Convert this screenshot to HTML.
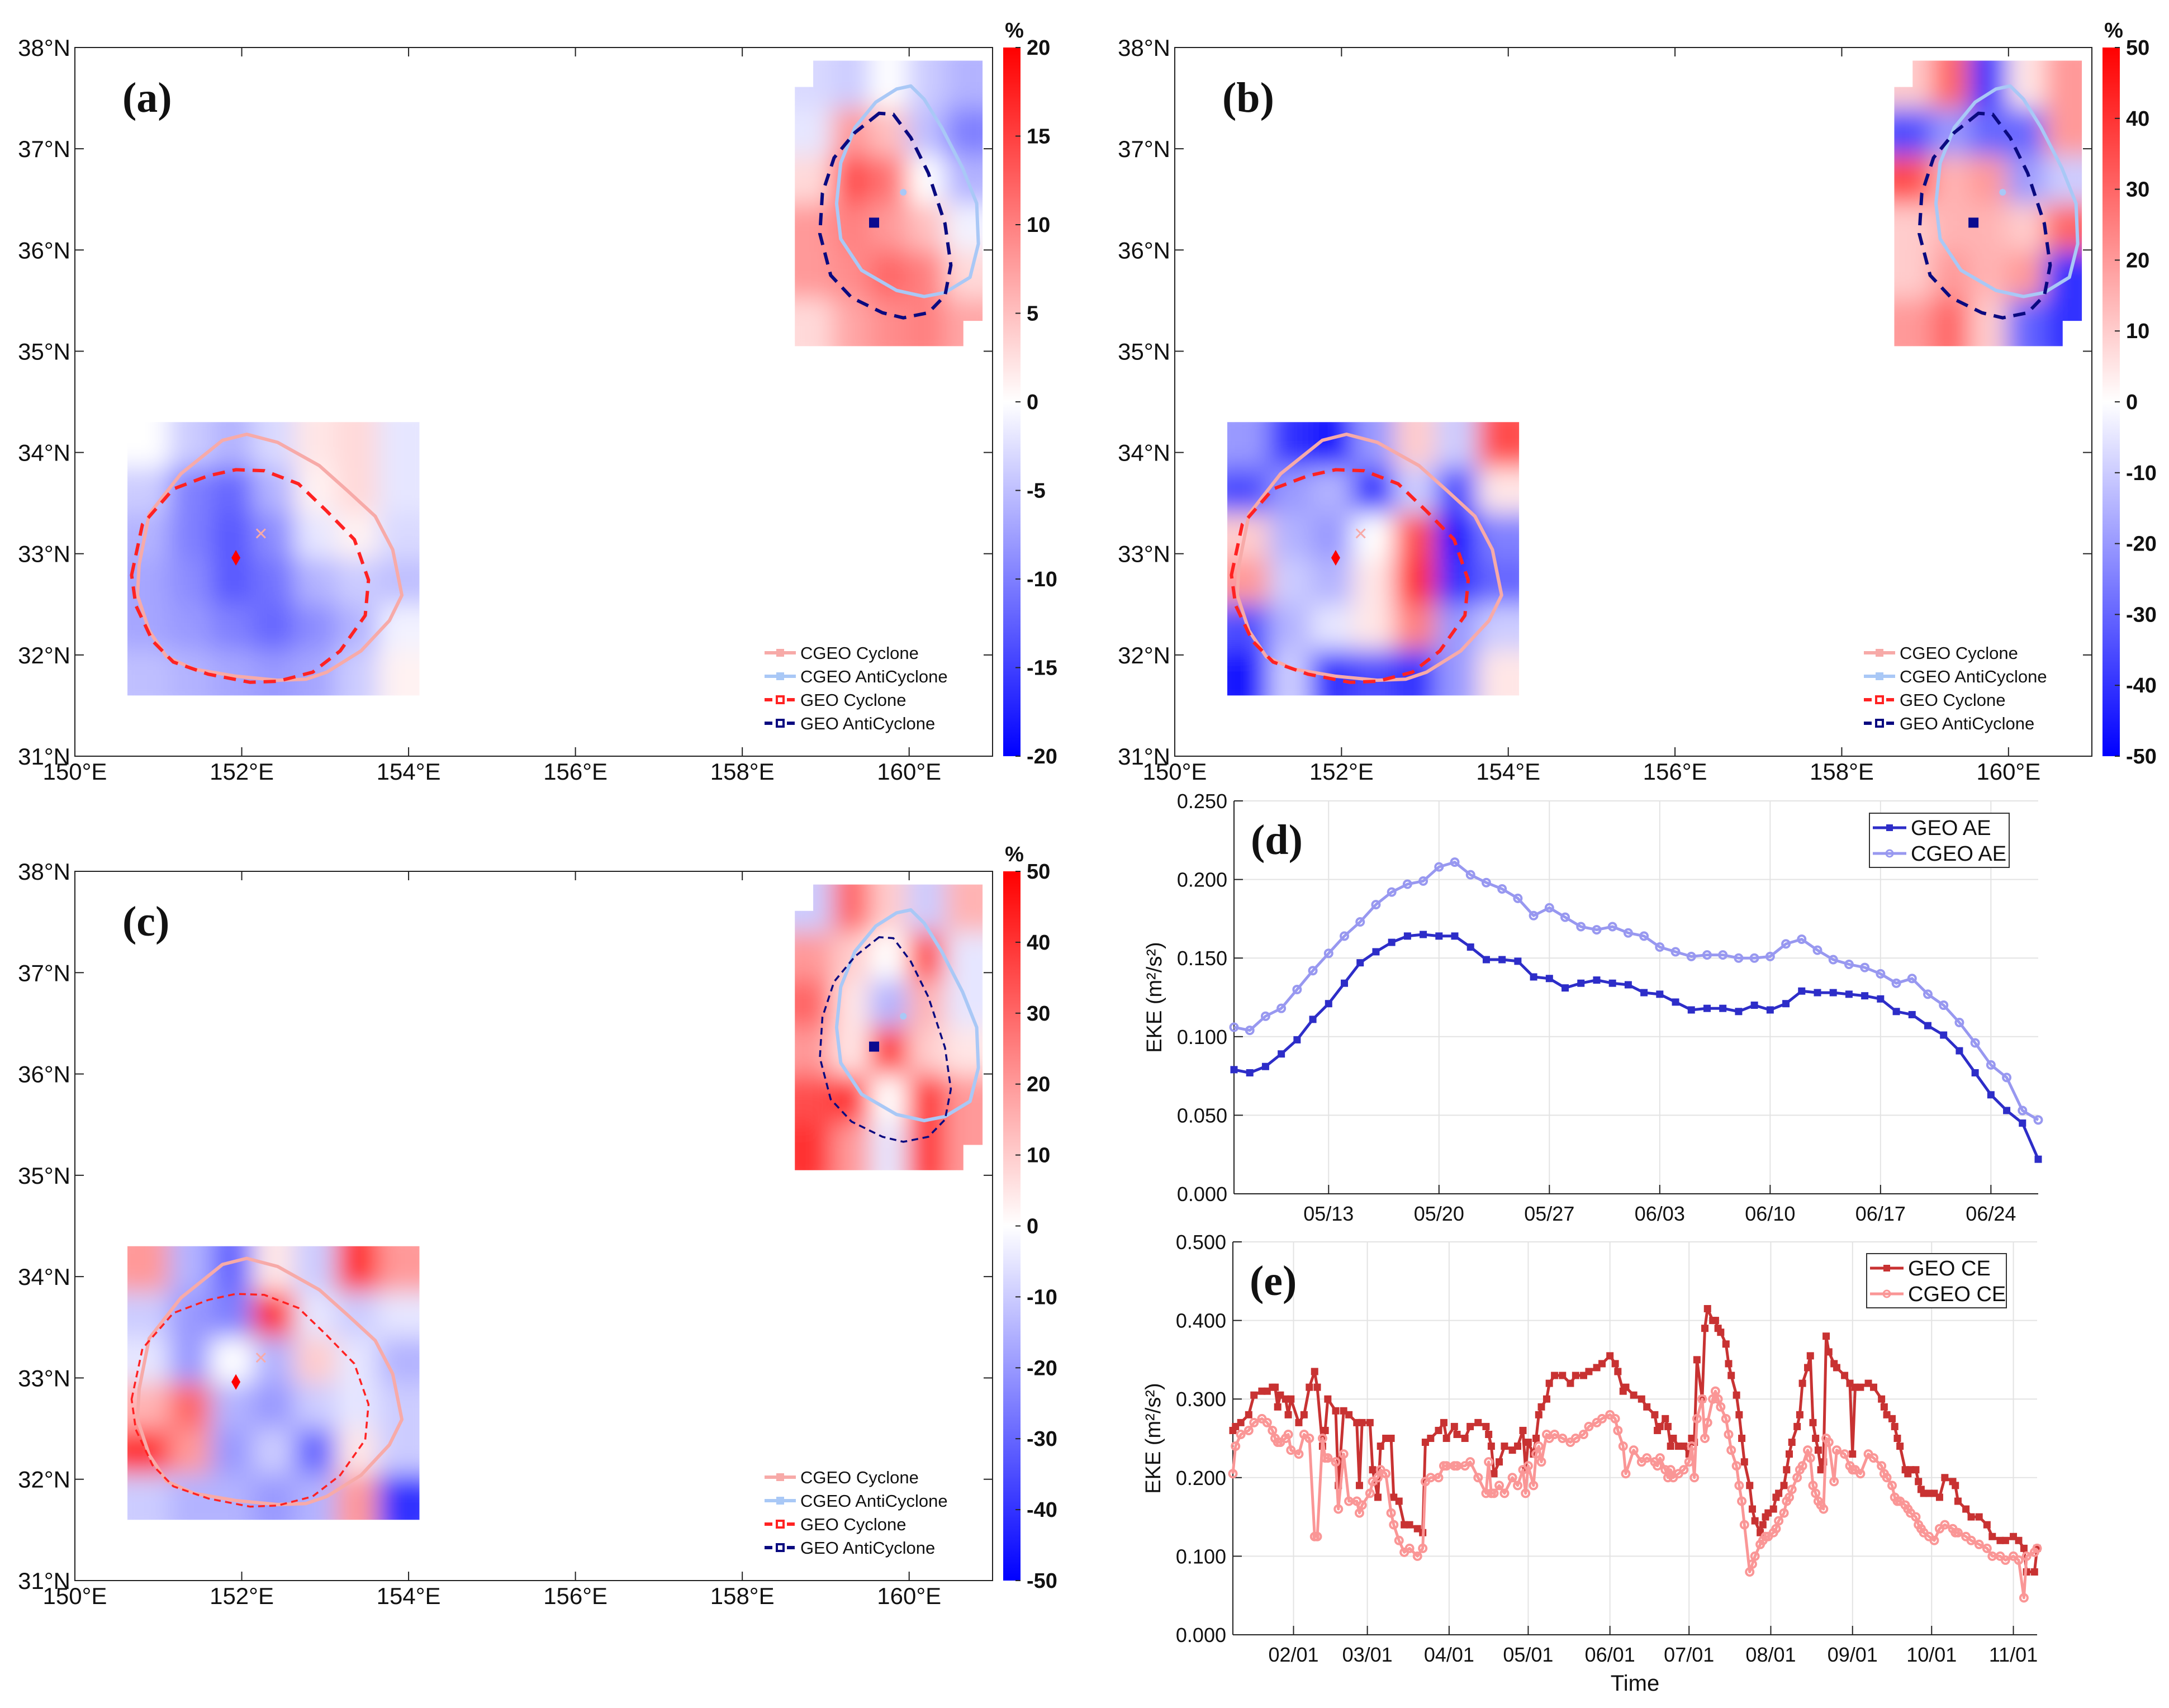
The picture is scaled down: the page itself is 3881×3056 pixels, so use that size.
<!DOCTYPE html>
<html><head><meta charset="utf-8"><style>
html,body{margin:0;padding:0;background:#fff}
svg text{font-family:"Liberation Sans",Arial,sans-serif}
svg text.serif{font-family:"Liberation Serif","Times New Roman",serif}
</style></head><body>
<svg id="s" xmlns="http://www.w3.org/2000/svg" width="3881" height="3051" viewBox="0 0 3881 3051">
<defs>
<filter id="blur" filterUnits="userSpaceOnUse" x="0" y="0" width="3881" height="3051"><feGaussianBlur stdDeviation="22" edgeMode="duplicate"/></filter>
</defs>
</svg>
<script>
// ---------- DATA ----------
const aeDates=["05/13","05/20","05/27","06/03","06/10","06/17","06/24"];
const aeTickDays=[6,13,20,27,34,41,48];
const geoAE=[0.079,0.077,0.081,0.089,0.098,0.111,0.121,0.134,0.147,0.154,0.160,0.164,0.165,0.164,0.164,0.157,0.149,0.149,0.148,0.138,0.137,0.131,0.134,0.136,0.134,0.133,0.128,0.127,0.122,0.117,0.118,0.118,0.116,0.120,0.117,0.121,0.129,0.128,0.128,0.127,0.126,0.124,0.116,0.114,0.107,0.101,0.091,0.077,0.063,0.053,0.045,0.022];
const cgeoAE=[0.106,0.104,0.113,0.118,0.130,0.142,0.153,0.164,0.173,0.184,0.192,0.197,0.199,0.208,0.211,0.203,0.198,0.194,0.188,0.177,0.182,0.176,0.170,0.168,0.170,0.166,0.164,0.157,0.154,0.151,0.152,0.152,0.150,0.150,0.151,0.159,0.162,0.155,0.149,0.146,0.144,0.140,0.134,0.137,0.127,0.120,0.109,0.096,0.082,0.074,0.053,0.047];
const aeYTicks=["0.000","0.050","0.100","0.150","0.200","0.250"];
const ceMonths=["02/01","03/01","04/01","05/01","06/01","07/01","08/01","09/01","10/01","11/01"];
const ceTickDays=[23,51,82,112,143,173,204,235,265,296];
const ceDays=[0,1,3,6,8,11,13,15,16,17,18,20,21,22,25,27,29,31,32,34,35,36,39,40,42,44,47,48,49,52,53,55,56,58,60,61,63,65,67,70,72,73,75,78,80,81,84,85,88,90,93,96,97,98,99,101,103,106,108,110,111,112,114,115,116,117,119,120,122,125,128,130,133,135,138,140,143,145,146,148,149,152,155,157,160,161,162,164,165,166,167,169,171,173,174,175,176,178,179,180,182,183,184,185,187,188,189,191,192,193,194,196,197,198,200,201,202,203,205,206,207,209,210,211,212,214,215,216,218,219,220,221,222,223,224,225,226,228,229,232,234,235,236,238,241,243,246,247,248,250,251,252,253,255,256,257,259,260,261,262,264,266,268,270,273,274,275,278,280,283,286,288,291,293,296,298,300,301,304,305];
const geoCE=[0.26,0.265,0.27,0.28,0.305,0.31,0.31,0.315,0.315,0.29,0.305,0.30,0.28,0.30,0.27,0.28,0.315,0.335,0.315,0.24,0.26,0.30,0.285,0.19,0.285,0.28,0.27,0.19,0.27,0.27,0.21,0.175,0.24,0.25,0.25,0.175,0.17,0.14,0.14,0.135,0.13,0.245,0.25,0.26,0.27,0.25,0.265,0.255,0.25,0.265,0.27,0.265,0.255,0.24,0.205,0.22,0.24,0.235,0.24,0.26,0.21,0.245,0.23,0.25,0.28,0.29,0.30,0.32,0.33,0.33,0.32,0.33,0.33,0.335,0.34,0.345,0.355,0.345,0.335,0.31,0.315,0.305,0.30,0.29,0.28,0.26,0.265,0.275,0.265,0.24,0.25,0.24,0.24,0.23,0.25,0.245,0.35,0.30,0.39,0.415,0.40,0.40,0.39,0.385,0.37,0.345,0.33,0.305,0.28,0.25,0.22,0.19,0.16,0.145,0.13,0.14,0.15,0.155,0.16,0.175,0.18,0.19,0.21,0.23,0.245,0.265,0.28,0.32,0.34,0.355,0.27,0.25,0.235,0.21,0.22,0.38,0.36,0.345,0.34,0.33,0.32,0.23,0.315,0.315,0.32,0.315,0.30,0.29,0.28,0.275,0.265,0.25,0.24,0.21,0.205,0.21,0.21,0.195,0.185,0.18,0.18,0.18,0.175,0.20,0.195,0.19,0.17,0.16,0.15,0.15,0.14,0.125,0.12,0.12,0.125,0.12,0.11,0.08,0.08,0.11];
const cgeoCE=[0.205,0.24,0.255,0.26,0.27,0.275,0.27,0.26,0.25,0.245,0.245,0.25,0.255,0.235,0.23,0.255,0.25,0.125,0.125,0.25,0.225,0.225,0.22,0.16,0.23,0.17,0.17,0.155,0.165,0.18,0.195,0.20,0.21,0.205,0.155,0.14,0.12,0.105,0.11,0.10,0.11,0.195,0.20,0.20,0.215,0.215,0.215,0.215,0.215,0.22,0.20,0.18,0.22,0.18,0.18,0.19,0.18,0.20,0.19,0.21,0.18,0.215,0.19,0.23,0.24,0.22,0.255,0.25,0.255,0.25,0.245,0.25,0.255,0.265,0.27,0.275,0.28,0.275,0.26,0.24,0.205,0.235,0.22,0.225,0.22,0.215,0.225,0.21,0.20,0.21,0.20,0.205,0.21,0.22,0.24,0.20,0.275,0.30,0.25,0.27,0.30,0.31,0.30,0.29,0.275,0.255,0.235,0.215,0.19,0.17,0.14,0.08,0.09,0.10,0.115,0.12,0.125,0.125,0.13,0.135,0.145,0.155,0.17,0.175,0.185,0.20,0.21,0.215,0.235,0.225,0.19,0.18,0.17,0.165,0.16,0.25,0.245,0.195,0.235,0.23,0.215,0.21,0.21,0.205,0.23,0.225,0.215,0.205,0.20,0.19,0.175,0.17,0.17,0.165,0.16,0.155,0.15,0.14,0.135,0.13,0.125,0.12,0.135,0.14,0.135,0.13,0.13,0.125,0.12,0.115,0.11,0.10,0.10,0.095,0.10,0.095,0.047,0.10,0.105,0.11];
const ceYTicks=["0.000","0.100","0.200","0.300","0.400","0.500"];
// heat grids (%), rows north->south
const heatA_SW=[[0,-4,-6,-3,2,3,-2],[-4,-10,-12,-6,1,3,-2],[-6,-10,-13,-9,-2,1,-3],[-7,-9,-13,-11,-6,-4,-5],[-7,-8,-10,-12,-9,-6,-1],[-5,-6,-7,-8,-7,-4,1]];
const heatA_NE=[[-3,-4,0,-4,-6],[-2,8,5,-5,-10],[3,14,11,0,-6],[8,10,8,5,-1],[8,9,12,10,3],[3,7,9,10,7]];
const heatB_SW=[[-20,-40,-45,-20,10,-10,35],[-35,-20,-15,-40,-10,-35,5],[10,-15,-20,0,35,-45,-25],[20,-10,-15,5,40,-40,-30],[-35,-15,-5,5,25,-20,-10],[-45,-10,-40,-35,-40,-20,5]];
const heatB_NE=[[10,30,-40,5,20],[-35,-20,-30,-30,20],[35,15,20,-20,-10],[10,15,15,10,30],[10,20,15,20,-40],[20,30,10,-30,-40]];
const heatC_SW=[[20,-15,-30,5,-10,40,20],[-10,-20,-25,40,-5,-10,-5],[-5,-20,0,-15,10,-5,-15],[15,30,-15,-20,-10,-5,-10],[40,20,-20,-10,-30,5,-10],[-10,-15,-15,-20,-15,20,-40]];
const heatC_NE=[[-10,30,10,-10,15],[20,10,0,35,-5],[30,5,-15,15,-5],[20,5,40,10,5],[35,40,0,40,20],[40,20,-5,40,20]];
const cgeoCyc=[[150.77,32.89],[150.89,33.39],[151.27,33.79],[151.77,34.12],[152.06,34.18],[152.43,34.10],[152.93,33.87],[153.27,33.62],[153.6,33.37],[153.81,33.04],[153.92,32.59],[153.77,32.34],[153.43,32.04],[153.02,31.83],[152.77,31.76],[152.43,31.75],[151.93,31.79],[151.43,31.86],[151.1,31.98],[150.89,32.24],[150.75,32.59]];
const geoCyc=[[150.68,32.79],[150.81,33.29],[151.18,33.64],[151.6,33.77],[151.93,33.83],[152.27,33.82],[152.68,33.69],[153.02,33.42],[153.35,33.14],[153.52,32.74],[153.48,32.39],[153.18,32.04],[152.85,31.83],[152.43,31.74],[152.1,31.73],[151.6,31.81],[151.18,31.93],[150.93,32.14],[150.73,32.49]];
const cgeoAnti=[[160.02,37.62],[159.85,37.59],[159.6,37.46],[159.35,37.21],[159.18,36.86],[159.13,36.46],[159.18,36.11],[159.43,35.8],[159.85,35.6],[160.18,35.54],[160.43,35.58],[160.73,35.73],[160.83,36.06],[160.81,36.46],[160.64,36.81],[160.39,37.21],[160.18,37.49]];
const geoAnti=[[159.64,37.35],[159.35,37.16],[159.1,36.91],[158.96,36.56],[158.93,36.16],[159.06,35.75],[159.31,35.53],[159.68,35.38],[159.93,35.33],[160.23,35.38],[160.43,35.55],[160.5,35.85],[160.43,36.26],[160.23,36.76],[160.02,37.11],[159.81,37.34]];

// ---------- HELPERS ----------
const NS="http://www.w3.org/2000/svg";
const svg=document.getElementById('s');
function el(tag,attrs,parent,txt){const e=document.createElementNS(NS,tag);for(const k in attrs)e.setAttribute(k,attrs[k]);if(txt!==undefined)e.textContent=txt;(parent||svg).appendChild(e);return e;}
function col(v,m){let t=Math.max(-1,Math.min(1,v/m));if(t>=0){const c=Math.round(255*(1-t));return `rgb(255,${c},${c})`;}const c=Math.round(255*(1+t));return `rgb(${c},${c},255)`;}

function mapPanel(id,L,T,W,H,cbX,maxV,cbTicks,heatSW,heatNE,thinDash){
  const X=lon=>L+(lon-150)/11*W, Y=lat=>T+(38-lat)/7*H;
  const g=el('g',{},svg);
  
  
  function heat(grid,lon0,lon1,lat0,lat1,clipPts,name){
    const cid='clip'+id+name;
    const cp=el('clipPath',{id:cid},svg.querySelector('defs'));
    el('polygon',{points:clipPts.map(p=>X(p[0])+','+Y(p[1])).join(' ')},cp);
    const outer=el('g',{'clip-path':`url(#${cid})`},g);
    
    
    const inner=el('g',{filter:'url(#blur)'},outer);
    const rows=grid.length,cols=grid[0].length;
    const dl=(lon1-lon0)/cols,dt=(lat1-lat0)/rows;
    for(let r=0;r<rows;r++)for(let c=0;c<cols;c++){
      const x0=X(lon0+c*dl),x1=X(lon0+(c+1)*dl),y0=Y(lat1-r*dt),y1=Y(lat1-(r+1)*dt);
      const ex=(c===0?-40:0), ex2=(c===cols-1?40:0), ey=(r===0?-40:0), ey2=(r===rows-1?40:0);
      const rc=el('rect',{x:x0+ex,y:y0+ey,width:x1-x0-ex+ex2+1,height:y1-y0-ey+ey2+1,fill:col(grid[r][c],maxV)},inner);
      
      
    }
  }
  heat(heatSW,150.63,154.13,31.6,34.3,[[150.63,34.3],[154.13,34.3],[154.13,31.6],[150.63,31.6]],'sw');
  heat(heatNE,158.63,160.88,35.05,37.87,[[158.63,37.61],[158.85,37.61],[158.85,37.87],[160.88,37.87],[160.88,35.3],[160.65,35.3],[160.65,35.05],[158.63,35.05]],'ne');
  const box=el('rect',{x:L,y:T,width:W,height:H,fill:'none',stroke:'#222','stroke-width':2},g);
  
  
  for(let lon=150;lon<=160;lon+=2){
    const x=X(lon);
    el('line',{x1:x,y1:T+H,x2:x,y2:T+H-16,stroke:'#222','stroke-width':2},g);
    el('line',{x1:x,y1:T,x2:x,y2:T+16,stroke:'#222','stroke-width':2},g);
    const t=el('text',{x:x,y:T+H+42,'font-size':42,'text-anchor':'middle',fill:'#111'},g,lon+'°E');
    
    
  }
  for(let lat=31;lat<=38;lat++){
    const y=Y(lat);
    el('line',{x1:L,y1:y,x2:L+16,y2:y,stroke:'#222','stroke-width':2},g);
    el('line',{x1:L+W,y1:y,x2:L+W-16,y2:y,stroke:'#222','stroke-width':2},g);
    const t=el('text',{x:L-8,y:y+15,'font-size':42,'text-anchor':'end',fill:'#111'},g,lat+'°N');
    
    
  }
  const path=(pts)=>'M'+pts.map(p=>X(p[0]).toFixed(1)+','+Y(p[1]).toFixed(1)).join(' L')+' Z';
  const dash=thinDash?'12 8':'22 14', dw=thinDash?3.5:6;
  let c1=el('path',{d:path(cgeoCyc),fill:'none',stroke:'#f7aaa8','stroke-width':6,'stroke-linejoin':'round'},g);
  
  let c2=el('path',{d:path(geoCyc),fill:'none',stroke:'#f22','stroke-width':dw,'stroke-dasharray':dash},g);
  
  let c3=el('path',{d:path(cgeoAnti),fill:'none',stroke:'#a9c8f6','stroke-width':6,'stroke-linejoin':'round'},g);
  
  let c4=el('path',{d:path(geoAnti),fill:'none',stroke:'#0a0a80','stroke-width':dw,'stroke-dasharray':dash},g);
  
  const dx=X(151.93),dy=Y(32.96);
  let m1=el('polygon',{points:`${dx},${dy-14} ${dx+8},${dy} ${dx},${dy+14} ${dx-8},${dy}`,fill:'#f00'},g);
  
  const xx=X(152.23),xy=Y(33.2);
  let m2=el('path',{d:`M${xx-8},${xy-8}L${xx+8},${xy+8}M${xx+8},${xy-8}L${xx-8},${xy+8}`,stroke:'#f7aaa8','stroke-width':3},g);
  
  let m3=el('rect',{x:X(159.58)-9,y:Y(36.27)-9,width:18,height:18,fill:'#0a0a90'},g);
  
  let m4=el('circle',{cx:X(159.93),cy:Y(36.57),r:6,fill:'#a9c8f6'},g);
  
  const pl=el('text',{x:L+85,y:T+115,'font-size':76,'font-weight':'bold','class':'serif',fill:'#111'},g,'('+id+')');
  
  const lg=el('g',{},g);
  
  const items=[['CGEO Cyclone','#f7aaa8',false],['CGEO AntiCyclone','#a9c8f6',false],['GEO Cyclone','#f22',true],['GEO AntiCyclone','#0a0a80',true]];
  const lx=L+W-408, ly0=T+H-185;
  items.forEach((it,i)=>{
    const y=ly0+i*42;
    const e=el('g',{},lg);
    
    el('line',{x1:lx,y1:y,x2:lx+56,y2:y,stroke:it[1],'stroke-width':6,'stroke-dasharray':it[2]?'14 6':'none'},e);
    if(it[2])el('rect',{x:lx+22,y:y-6,width:12,height:12,fill:'#fff',stroke:it[1],'stroke-width':4},e);
    else el('rect',{x:lx+21,y:y-7,width:14,height:14,fill:it[1]},e);
    el('text',{x:lx+64,y:y+11,'font-size':31,fill:'#111'},e,it[0]);
  });
  const cg=el('g',{},g);
  
  const gid='cbg'+id;
  const lgd=el('linearGradient',{id:gid,x1:0,y1:0,x2:0,y2:1},svg.querySelector('defs'));
  el('stop',{offset:'0','stop-color':'#f00'},lgd);el('stop',{offset:'0.5','stop-color':'#fff'},lgd);el('stop',{offset:'1','stop-color':'#00f'},lgd);
  el('rect',{x:cbX,y:T,width:31,height:H,fill:`url(#${gid})`},cg);
  cbTicks.forEach(v=>{
    const y=T+(maxV-v)/(2*maxV)*H;
    el('line',{x1:cbX+31,y1:y,x2:cbX+22,y2:y,stroke:'#222','stroke-width':2},cg);
    const t=el('text',{x:cbX+42,y:y+13,'font-size':38,'font-weight':'bold',fill:'#111'},cg,String(v));
    
  });
  el('text',{x:cbX+20,y:T-18,'font-size':38,'font-weight':'bold','text-anchor':'middle',fill:'#111'},cg,'%');
}
const t20=[20,15,10,5,0,-5,-10,-15,-20], t50=[50,40,30,20,10,0,-10,-20,-30,-40,-50];
mapPanel('a',134,85,1642,1268,1795,20,t20,heatA_SW,heatA_NE,false);
mapPanel('b',2102,85,1641,1268,3762,50,t50,heatB_SW,heatB_NE,false);
mapPanel('c',134,1559,1642,1269,1795,50,t50,heatC_SW,heatC_NE,true);

function linePanel(id,L,T,W,H,xMax,yMax,xs,series,tickDays,tickLabels,yTicks,legend,lw,ms,showTime){
  const X=d=>L+d/xMax*W, Y=v=>T+H-v/yMax*H;
  const g=el('g',{},svg);
  
  tickDays.forEach((d,i)=>{
    el('line',{x1:X(d),y1:T,x2:X(d),y2:T+H,stroke:'#e3e3e3','stroke-width':2},g);
    el('line',{x1:X(d),y1:T+H,x2:X(d),y2:T+H-16,stroke:'#222','stroke-width':2},g);
    const t=el('text',{x:X(d),y:T+H+48,'font-size':36,'text-anchor':'middle',fill:'#111'},g,tickLabels[i]);
    
  });
  yTicks.forEach((lab,i)=>{
    const y=T+H-i*H/(yTicks.length-1);
    if(i>0)el('line',{x1:L,y1:y,x2:L+W,y2:y,stroke:'#e3e3e3','stroke-width':2},g);
    el('line',{x1:L,y1:y,x2:L+16,y2:y,stroke:'#222','stroke-width':2},g);
    const t=el('text',{x:L-12,y:y+13,'font-size':36,'text-anchor':'end',fill:'#111'},g,lab);
    
  });
  el('line',{x1:L,y1:T,x2:L,y2:T+H,stroke:'#222','stroke-width':2},g);
  el('line',{x1:L,y1:T+H,x2:L+W,y2:T+H,stroke:'#222','stroke-width':2},g);
  const yl=el('text',{x:0,y:0,'font-size':38,'text-anchor':'middle',fill:'#111',transform:`translate(${L-130},${T+H/2}) rotate(-90)`},g,'EKE (m²/s²)');
  
  if(showTime){const tt=el('text',{x:L+W/2,y:T+H+100,'font-size':40,'text-anchor':'middle',fill:'#111'},g,'Time');}
  series.forEach(s=>{
    const n=Math.min(xs.length,s.vals.length);
    let d='';
    for(let i=0;i<n;i++)d+=(i?'L':'M')+X(xs[i]).toFixed(1)+','+Y(s.vals[i]).toFixed(1);
    const sg=el('g',{},g);
    
    el('path',{d:d,fill:'none',stroke:s.color,'stroke-width':lw,'stroke-linejoin':'round'},sg);
    for(let i=0;i<n;i++){
      let m;
      if(s.marker==='sq')m=el('rect',{x:X(xs[i])-ms/2,y:Y(s.vals[i])-ms/2,width:ms,height:ms,fill:s.color},sg);
      else m=el('circle',{cx:X(xs[i]),cy:Y(s.vals[i]),r:ms/2,fill:'none',stroke:s.color,'stroke-width':4},sg);
      
      
    }
  });
  const pl=el('text',{x:L+30,y:T+95,'font-size':76,'font-weight':'bold','class':'serif',fill:'#111'},g,'('+id+')');
  
  const lg=el('g',{},g);
  
  const bx=legend.x,by=legend.y;
  el('rect',{x:bx,y:by,width:250,height:97,fill:'#fff',stroke:'#333','stroke-width':2},lg);
  series.forEach((s,i)=>{
    const y=by+26+i*46;
    const e=el('g',{},lg);
    
    el('line',{x1:bx+6,y1:y,x2:bx+66,y2:y,stroke:s.color,'stroke-width':lw},e);
    if(s.marker==='sq')el('rect',{x:bx+30,y:y-6,width:12,height:12,fill:s.color},e);
    else el('circle',{cx:bx+36,cy:y,r:6,fill:'none',stroke:s.color,'stroke-width':3},e);
    el('text',{x:bx+74,y:y+13,'font-size':38,fill:'#111'},e,s.name);
  });
}
const aeDays=geoAE.map((v,i)=>i);
linePanel('d',2208,1433,1439,703,51,0.25,aeDays,
  [{name:'GEO AE',vals:geoAE,color:'#2d2dc8',marker:'sq'},{name:'CGEO AE',vals:cgeoAE,color:'#9898f0',marker:'ci'}],
  aeTickDays,aeDates,aeYTicks,{x:3345,y:1455},5,13,false);
linePanel('e',2206,2222,1439,703,305,0.5,ceDays,
  [{name:'GEO CE',vals:geoCE,color:'#c83232',marker:'sq'},{name:'CGEO CE',vals:cgeoCE,color:'#fa9696',marker:'ci'}],
  ceTickDays,ceMonths,ceYTicks,{x:3340,y:2243},5,13,true);
</script>
</body></html>
